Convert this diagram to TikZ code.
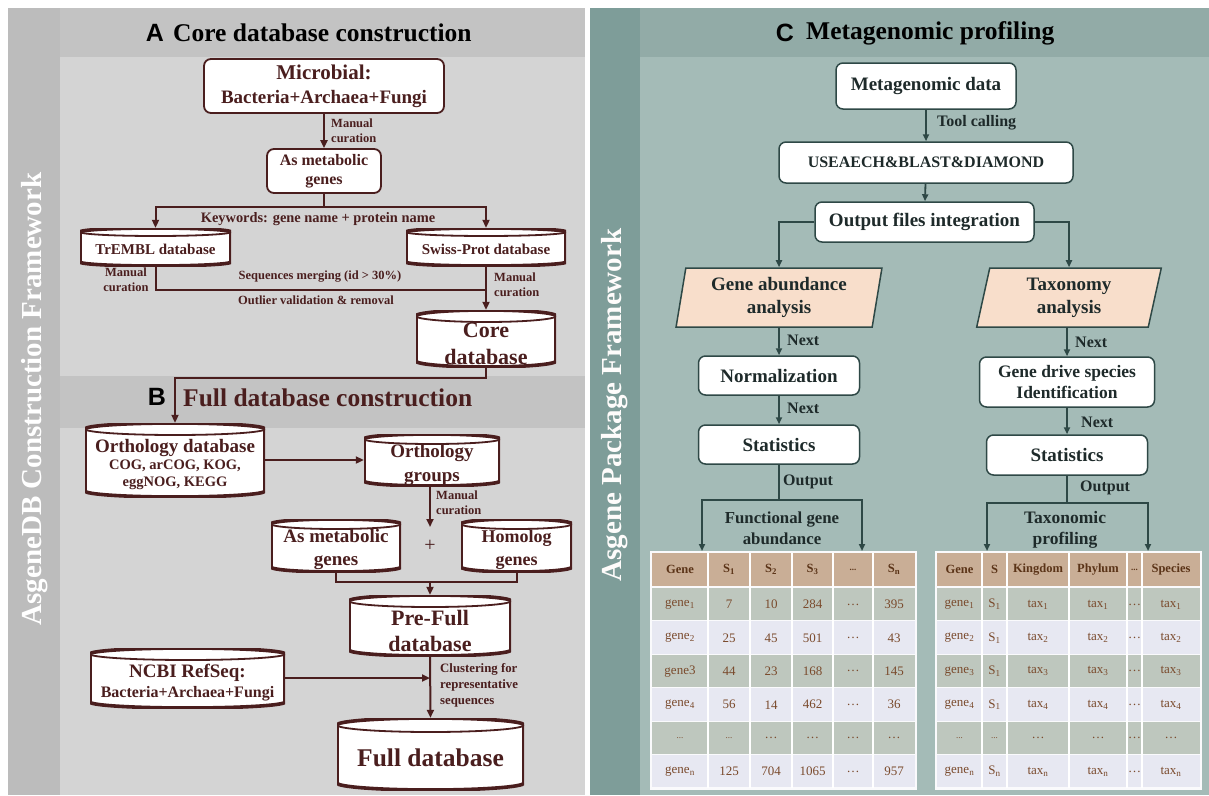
\documentclass[tikz,border=0pt]{standalone}
\usepackage{fontspec}
\setmainfont{Liberation Serif}
\newfontfamily\lettfont{Liberation Sans}
\usetikzlibrary{shapes.geometric,arrows.meta,positioning,calc}

\definecolor{brn}{HTML}{4A1E1E}
\definecolor{lgstrip}{HTML}{BCBCBC}
\definecolor{lgband}{HTML}{C3C3C3}
\definecolor{lgbody}{HTML}{D4D4D4}
\definecolor{tlstrip}{HTML}{7E9D99}
\definecolor{tlband}{HTML}{92ABA7}
\definecolor{tlbody}{HTML}{A4BBB7}
\definecolor{slate}{HTML}{2E4846}
\definecolor{ink}{HTML}{1E2A2A}
\definecolor{peach}{HTML}{F8DECB}
\definecolor{thead}{HTML}{C9AE96}
\definecolor{tdark}{HTML}{BEC7BE}
\definecolor{tlight}{HTML}{E7E8F2}
\definecolor{tbrown}{HTML}{7A4A2C}
\definecolor{thbrown}{HTML}{5B3418}

\newcommand{\fsz}[2]{\fontsize{#1}{#2}\selectfont}
\newcommand{\tdots}{{\fsz{9}{10}...}}

\tikzset{
  lbox/.style={rectangle, rounded corners=7pt, draw=brn, line width=1.8pt, fill=white, text=brn, align=center, inner sep=0pt},
  % database drum: the node is a plain box, the drum is drawn inside it
  ldb/.style={rectangle, inner sep=0pt,
    path picture={
      \path[fill=white, draw=brn, line width=3.6pt]
        let \p1=(path picture bounding box.north west), \p2=(path picture bounding box.south east), \n1={(\x2-\x1)/2} in
        (\x1,{\y1-#1pt}) -- (\x1,{\y2+#1pt})
        arc[start angle=180, end angle=360, x radius=\n1, y radius=#1pt]
        -- (\x2,{\y1-#1pt})
        arc[start angle=0, end angle=180, x radius=\n1, y radius=#1pt] -- cycle;
      \path[draw=brn, line width=1.8pt]
        let \p1=(path picture bounding box.north west), \p2=(path picture bounding box.south east), \n1={(\x2-\x1)/2} in
        (\x1,{\y1-#1pt}) arc[start angle=180, end angle=360, x radius=\n1, y radius=#1pt];
    }},
  ldb/.default=5,
  dbtext/.style n args={3}{label={[text=brn, align=center, inner sep=0pt, yshift=-#1, font=\bfseries#2]center:#3}},
  rbox/.style={rectangle, rounded corners=7pt, draw=slate, line width=1.5pt, fill=white, text=ink, align=center, inner sep=0pt},
  rpara/.style={trapezium, trapezium left angle=80, trapezium right angle=100, trapezium stretches=true, draw=slate, line width=1.5pt, fill=peach, text=ink, align=center, inner sep=0pt},
  lnote/.style={text=brn, font=\bfseries\fsz{12.5}{15}, align=center, inner sep=0pt},
  rnote/.style={text=ink, font=\bfseries\fsz{16}{19}, align=center, inner sep=0pt},
  larr/.style={draw=brn, line width=2pt, -{Triangle[length=8pt,width=7pt]}},
  lline/.style={draw=brn, line width=2pt},
  rarr/.style={draw=slate, line width=1.8pt, -{Triangle[length=7pt,width=6pt]}},
  rline/.style={draw=slate, line width=1.8pt},
  vtitle/.style={rotate=90, font=\bfseries\fsz{29}{30}, inner sep=0pt},
  cell/.style={font=\fsz{13}{14}, text=tbrown, inner sep=0pt},
  hcell/.style={font=\bfseries\fsz{12.5}{14}, text=thbrown, inner sep=0pt},
}

\begin{document}
\begin{tikzpicture}[x=1pt,y=-1pt]
    \useasboundingbox (0,0) rectangle (1209,795);

    % Panel backgrounds
    \fill[lgbody] (8,8) rectangle (585,795);
    \fill[lgstrip] (8,8) rectangle (60,795);
    \fill[lgband] (60,8) rectangle (585,57);
    \fill[lgband] (60,376) rectangle (585,428);
    \fill[tlbody] (590,8) rectangle (1209,795);
    \fill[tlstrip] (590,8) rectangle (640,795);
    \fill[tlband] (640,8) rectangle (1209,57);

    \node[vtitle, text=white] (vleft) at (35,399) {AsgeneDB Construction Framework};
    \node[vtitle, text=white!92!peach] (vright) at (615,405) {Asgene Package Framework};

    % Section titles
    \node[font=\lettfont\bfseries\fsz{25}{26}, inner sep=0pt] (la) at (155,33) {A};
    \node[font=\bfseries\fsz{25.5}{27}, anchor=west, inner sep=0pt] (ta) at (173,33) {Core database construction};
    \node[font=\lettfont\bfseries\fsz{25}{26}, inner sep=0pt] (lb) at (157,397) {B};
    \node[font=\bfseries\fsz{25.5}{27}, text=brn, anchor=west, inner sep=0pt] (tb) at (183,398) {Full database construction};
    \node[font=\lettfont\bfseries\fsz{25}{26}, inner sep=0pt] (lc) at (785,33) {C};
    \node[font=\bfseries\fsz{25.5}{27}, anchor=west, inner sep=0pt] (tc) at (806,33) {Metagenomic profiling};

    % Core database construction
    \node[lbox, minimum width=240, minimum height=54, font=\bfseries\fsz{19}{24}] (mic) at (324,86) {{\fsz{21}{24}Microbial:}\\Bacteria+Archaea+Fungi};
    \node[lbox, minimum width=114, minimum height=44, font=\bfseries\fsz{16}{19}] (amg) at (324,171) {As metabolic\\genes};
    \node[ldb=4, minimum width=151, minimum height=38, dbtext={2}{\fsz{15}{17}}{TrEMBL database}] (tre) at (155.5,247) {};
    \node[ldb=4, minimum width=160, minimum height=38, dbtext={2}{\fsz{15}{17}}{Swiss-Prot database}] (swi) at (486,247) {};
    \node[ldb=6, minimum width=140, minimum height=57, dbtext={5}{\fsz{22}{27}}{Core\\database}] (core) at (486,338.5) {};

    \coordinate (kw) at (324,207);
    \coordinate (mrg) at (486,290);
    \coordinate (bturn) at (486,378);
    \draw[larr] (mic) -- (amg);
    \draw[lline] (amg) -- (kw);
    \draw[larr] (kw) -| (tre.north);
    \draw[larr] (kw) -| (swi.north);
    \draw[lline] (tre.south) |- (mrg);
    \draw[larr] (swi.south) -- (core.north);

    \node[lnote, anchor=west, align=left] (n1) at (331,130.5) {Manual\\curation};
    \node[font=\bfseries\fsz{14.4}{16}, text=brn, inner sep=0pt] (kwl) at (318,219) {Keywords: gene name + protein name};
    \node[lnote] (n2) at (126,280) {Manual\\curation};
    \node[lnote, anchor=west, align=left] (n3) at (494,284.5) {Manual\\curation};
    \node[lnote] (seq) at (320,277) {Sequences merging (id > 30\%)};
    \node[lnote] (outl) at (316,300) {Outlier validation \& removal};

    % Full database construction
    \node[ldb=6, minimum width=180, minimum height=74, dbtext={5}{\fsz{14.5}{17}}{{\fsz{19}{20}Orthology database}\\COG, arCOG, KOG,\\eggNOG, KEGG}] (orth) at (175,460) {};
    \node[ldb, minimum width=136, minimum height=52, dbtext={5}{\fsz{19}{24}}{Orthology\\groups}] (ogrp) at (432,460) {};
    \node[ldb, minimum width=130, minimum height=53, dbtext={4}{\fsz{19}{23}}{As metabolic\\genes}] (amg2) at (336,545.5) {};
    \node[ldb, minimum width=111, minimum height=53, dbtext={4}{\fsz{18}{23}}{Homolog\\genes}] (hom) at (516.5,545.5) {};
    \node[font=\fsz{20}{22}, text=brn, inner sep=0pt] (plus) at (430,546) {+};
    \node[ldb=6, minimum width=162, minimum height=61, dbtext={5}{\fsz{22}{26}}{Pre-Full\\database}] (pre) at (430,625.5) {};
    \node[ldb=6, minimum width=195, minimum height=60, dbtext={5}{\fsz{16}{20}}{{\fsz{19}{20}NCBI RefSeq:}\\Bacteria+Archaea+Fungi}] (ncbi) at (187.5,678) {};
    \node[ldb=7, minimum width=187, minimum height=72, dbtext={4}{\fsz{25.5}{27}}{Full database}] (full) at (430.5,754) {};

    \coordinate (jn) at (430,582);
    \coordinate (cur) at (430,527);
    \draw[larr] (core.south) -- (bturn) -| (orth.north);
    \draw[larr] (orth.east) -- (ogrp.west);
    \draw[larr] (ogrp.south -| cur) -- (cur);
    \draw[lline] (amg2.south) |- (jn) -| (hom.south);
    \draw[larr] (jn) -- (pre.north);
    \draw[larr] (pre.south) -- (full.north);
    \draw[larr] (ncbi.east) -- (ncbi.east -| pre.south);

    \node[lnote, anchor=west, align=left] (n4) at (436,502.5) {Manual\\curation};
    \node[lnote, anchor=west, align=left, font=\bfseries\fsz{12.8}{16}] (clu) at (440,685) {Clustering for\\representative\\sequences};

    % Metagenomic profiling
    \node[rbox, minimum width=180, minimum height=46, font=\bfseries\fsz{19}{22}] (md) at (926,86) {Metagenomic data};
    \node[rbox, minimum width=294, minimum height=41, font=\bfseries\fsz{16}{19}] (use) at (926,162.5) {USEAECH\&BLAST\&DIAMOND};
    \node[rbox, minimum width=219, minimum height=40, font=\bfseries\fsz{19}{22}] (ofi) at (924.5,222) {Output files integration};
    \node[rpara, minimum width=206, minimum height=59, font=\bfseries\fsz{19}{23}] (ga) at (779,297.5) {Gene abundance\\analysis};
    \node[rpara, minimum width=185, minimum height=59, font=\bfseries\fsz{19}{23}] (tx) at (1069,297.5) {Taxonomy\\analysis};
    \node[rbox, minimum width=161, minimum height=39, font=\bfseries\fsz{19}{22}] (nrm) at (779,375.5) {Normalization};
    \node[rbox, minimum width=161, minimum height=39, font=\bfseries\fsz{19}{22}] (sta1) at (779,444.5) {Statistics};
    \node[rbox, minimum width=175, minimum height=50, font=\bfseries\fsz{17.5}{21}] (gds) at (1067,382) {Gene drive species\\Identification};
    \node[rbox, minimum width=161, minimum height=40, font=\bfseries\fsz{19}{22}] (sta2) at (1067,455) {Statistics};

    \draw[rarr] (md) -- (use);
    \draw[rarr] (use) -- (ofi);
    \draw[rarr] (ofi.west) -| (ga.north);
    \draw[rarr] (ofi.east) -| (tx.north);
    \draw[rarr] (ga.south) -- (nrm.north);
    \draw[rarr] (nrm) -- (sta1);
    \draw[rarr] (tx.south -| gds.north) -- (gds.north);
    \draw[rarr] (gds) -- (sta2);

    \coordinate (fsplit) at (779,500);
    \coordinate (ftl) at (702,551);
    \coordinate (ftr) at (862,551);
    \coordinate (tsplit) at (1067,503);
    \coordinate (ttl) at (987,551);
    \coordinate (ttr) at (1148,551);
    \draw[rline] (sta1) -- (fsplit);
    \draw[rarr] (fsplit) -| (ftl);
    \draw[rarr] (fsplit) -| (ftr);
    \draw[rline] (sta2) -- (tsplit);
    \draw[rarr] (tsplit) -| (ttl);
    \draw[rarr] (tsplit) -| (ttr);

    \node[rnote, anchor=west] (tcall) at (937,123) {Tool calling};
    \node[rnote, anchor=west] (nx1) at (787,340) {Next};
    \node[rnote, anchor=west] (nx2) at (787,408) {Next};
    \node[rnote, anchor=west] (nx3) at (1075,342) {Next};
    \node[rnote, anchor=west] (nx4) at (1081,422) {Next};
    \node[rnote, anchor=west] (op1) at (783,482) {Output};
    \node[rnote, anchor=west] (op2) at (1080,488) {Output};
    \node[rnote, font=\bfseries\fsz{16.8}{21}] (fga) at (782,528) {Functional gene\\abundance};
    \node[rnote, font=\bfseries\fsz{17.5}{21}] (tpr) at (1065,530) {Taxonomic\\profiling};

    % Functional gene abundance table
    \fill[white!80!tlight] (650,551) rectangle (917,790);
    \fill[thead] (652,553) rectangle (915,586);
    \foreach \r/\rc in {1/tdark,2/tlight,3/tdark,4/tlight,5/tdark,6/tlight}
        \fill[\rc] (652,{588+(\r-1)*33.4}) rectangle (915,{587+\r*33.4});
    \foreach \x in {708,750,792,833,873}
        \draw[white, line width=1.5pt] (\x,553) -- (\x,788);
    \foreach \t/\x [count=\c] in {Gene/680, S\textsubscript{1}/729, S\textsubscript{2}/771, S\textsubscript{3}/812.5, \tdots/853, S\textsubscript{n}/894}
        \node[hcell] (fh\c) at (\x,569.5) {\t};
    \foreach \a/\b/\cc/\d/\e/\f [count=\r] in {
        gene\textsubscript{1}/7/10/284/\ldots/395,
        gene\textsubscript{2}/25/45/501/\ldots/43,
        gene3/44/23/168/\ldots/145,
        gene\textsubscript{4}/56/14/462/\ldots/36,
        \tdots/\tdots/\ldots/\ldots/\ldots/\ldots,
        gene\textsubscript{n}/125/704/1065/\ldots/957}{
        \node[cell] (fa\r-1) at (680,{604.5+(\r-1)*33.4}) {\a};
        \node[cell] (fa\r-2) at (729,{604.5+(\r-1)*33.4}) {\b};
        \node[cell] (fa\r-3) at (771,{604.5+(\r-1)*33.4}) {\cc};
        \node[cell] (fa\r-4) at (812.5,{604.5+(\r-1)*33.4}) {\d};
        \node[cell] (fa\r-5) at (853,{604.5+(\r-1)*33.4}) {\e};
        \node[cell] (fa\r-6) at (894,{604.5+(\r-1)*33.4}) {\f};
    }

    % Taxonomic profiling table
    \fill[white!80!tlight] (935,551) rectangle (1202,790);
    \fill[thead] (937,553) rectangle (1200,586);
    \foreach \r/\rc in {1/tdark,2/tlight,3/tdark,4/tlight,5/tdark,6/tlight}
        \fill[\rc] (937,{588+(\r-1)*33.4}) rectangle (1200,{587+\r*33.4});
    \foreach \x in {982,1007,1069,1127,1142}
        \draw[white, line width=1.5pt] (\x,553) -- (\x,788);
    \foreach \t/\x [count=\c] in {Gene/959.5, S/994.5, Kingdom/1038, Phylum/1098, \tdots/1134.5, Species/1171}
        \node[hcell] (th\c) at (\x,569.5) {\t};
    \foreach \a/\b/\cc/\d/\e/\f [count=\r] in {
        gene\textsubscript{1}/S\textsubscript{1}/tax\textsubscript{1}/tax\textsubscript{1}/\ldots/tax\textsubscript{1},
        gene\textsubscript{2}/S\textsubscript{1}/tax\textsubscript{2}/tax\textsubscript{2}/\ldots/tax\textsubscript{2},
        gene\textsubscript{3}/S\textsubscript{1}/tax\textsubscript{3}/tax\textsubscript{3}/\ldots/tax\textsubscript{3},
        gene\textsubscript{4}/S\textsubscript{1}/tax\textsubscript{4}/tax\textsubscript{4}/\ldots/tax\textsubscript{4},
        \tdots/\tdots/\ldots/\ldots/\ldots/\ldots,
        gene\textsubscript{n}/S\textsubscript{n}/tax\textsubscript{n}/tax\textsubscript{n}/\ldots/tax\textsubscript{n}}{
        \node[cell] (ta\r-1) at (959.5,{604.5+(\r-1)*33.4}) {\a};
        \node[cell] (ta\r-2) at (994.5,{604.5+(\r-1)*33.4}) {\b};
        \node[cell] (ta\r-3) at (1038,{604.5+(\r-1)*33.4}) {\cc};
        \node[cell] (ta\r-4) at (1098,{604.5+(\r-1)*33.4}) {\d};
        \node[cell] (ta\r-5) at (1134.5,{604.5+(\r-1)*33.4}) {\e};
        \node[cell] (ta\r-6) at (1171,{604.5+(\r-1)*33.4}) {\f};
    }
\end{tikzpicture}
\end{document}
